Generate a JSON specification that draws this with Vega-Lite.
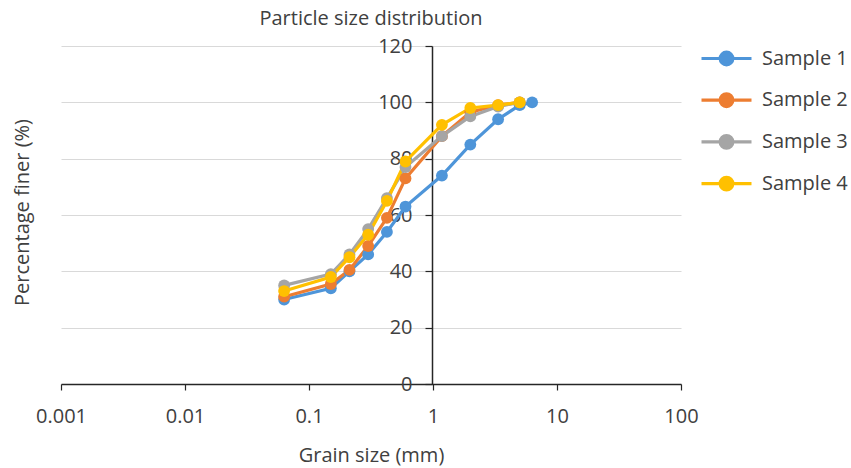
{
  "$schema": "https://vega.github.io/schema/vega-lite/v6.json",
  "width": 620,
  "height": 338,
  "autosize": {"type": "none"},
  "padding": {"left": 61, "top": 46, "right": 170, "bottom": 84},
  "title": {"text": "Particle size distribution", "fontSize": 20, "font": "Open Sans", "fontWeight": "normal", "color": "#404040", "offset": 7},
  "data": {"values": [
    {"sample": "Sample 1", "size": 0.063, "finer": 30},
    {"sample": "Sample 1", "size": 0.15, "finer": 34},
    {"sample": "Sample 1", "size": 0.212, "finer": 40},
    {"sample": "Sample 1", "size": 0.3, "finer": 46},
    {"sample": "Sample 1", "size": 0.425, "finer": 54},
    {"sample": "Sample 1", "size": 0.6, "finer": 63},
    {"sample": "Sample 1", "size": 1.18, "finer": 74},
    {"sample": "Sample 1", "size": 2, "finer": 85},
    {"sample": "Sample 1", "size": 3.35, "finer": 94},
    {"sample": "Sample 1", "size": 5, "finer": 99},
    {"sample": "Sample 1", "size": 6.3, "finer": 100},
    {"sample": "Sample 2", "size": 0.063, "finer": 31},
    {"sample": "Sample 2", "size": 0.15, "finer": 35.5},
    {"sample": "Sample 2", "size": 0.212, "finer": 40.5},
    {"sample": "Sample 2", "size": 0.3, "finer": 49},
    {"sample": "Sample 2", "size": 0.425, "finer": 59},
    {"sample": "Sample 2", "size": 0.6, "finer": 73},
    {"sample": "Sample 2", "size": 1.18, "finer": 88},
    {"sample": "Sample 2", "size": 2, "finer": 96.5},
    {"sample": "Sample 2", "size": 3.35, "finer": 99},
    {"sample": "Sample 2", "size": 5, "finer": 100},
    {"sample": "Sample 3", "size": 0.063, "finer": 35},
    {"sample": "Sample 3", "size": 0.15, "finer": 39},
    {"sample": "Sample 3", "size": 0.212, "finer": 46},
    {"sample": "Sample 3", "size": 0.3, "finer": 55},
    {"sample": "Sample 3", "size": 0.425, "finer": 66},
    {"sample": "Sample 3", "size": 0.6, "finer": 77},
    {"sample": "Sample 3", "size": 1.18, "finer": 88},
    {"sample": "Sample 3", "size": 2, "finer": 95},
    {"sample": "Sample 3", "size": 3.35, "finer": 98.5},
    {"sample": "Sample 3", "size": 5, "finer": 100},
    {"sample": "Sample 4", "size": 0.063, "finer": 33},
    {"sample": "Sample 4", "size": 0.15, "finer": 38},
    {"sample": "Sample 4", "size": 0.212, "finer": 45},
    {"sample": "Sample 4", "size": 0.3, "finer": 53},
    {"sample": "Sample 4", "size": 0.425, "finer": 65},
    {"sample": "Sample 4", "size": 0.6, "finer": 79},
    {"sample": "Sample 4", "size": 1.18, "finer": 92},
    {"sample": "Sample 4", "size": 2, "finer": 98},
    {"sample": "Sample 4", "size": 3.35, "finer": 99},
    {"sample": "Sample 4", "size": 5, "finer": 100}
  ]},
  "mark": {"type": "line", "strokeWidth": 3.2, "point": {"filled": true, "size": 140, "opacity": 1}},
  "encoding": {
    "x": {
      "field": "size", "type": "quantitative",
      "scale": {"type": "log", "domain": [0.001, 100], "nice": false},
      "axis": {
        "title": "Grain size (mm)", "values": [0.001, 0.01, 0.1, 1, 10, 100],
        "format": "~g", "grid": false, "labelFlush": false, "tickSize": 6, "domainColor": "#262626", "tickColor": "#262626",
        "domainWidth": 1.5, "tickWidth": 1.2, "labelPadding": 16, "titlePadding": 19
      }
    },
    "y": {
      "field": "finer", "type": "quantitative",
      "scale": {"domain": [0, 120], "nice": false},
      "axis": {
        "title": "Percentage finer (%)", "values": [0, 20, 40, 60, 80, 100, 120],
        "offset": -371, "titleX": -400, "titleY": 166, "titleAnchor": "middle",
        "labelFlush": false,
        "grid": true, "gridColor": "#d9d9d9", "gridWidth": 1.2,
        "tickSize": 7, "domainColor": "#262626", "tickColor": "#262626", "domainWidth": 1.5, "tickWidth": 1.2,
        "labelPadding": 13
      }
    },
    "color": {
      "field": "sample", "type": "nominal",
      "scale": {"domain": ["Sample 1", "Sample 2", "Sample 3", "Sample 4"], "range": ["#4e95d9", "#ed7d31", "#a5a5a5", "#ffc000"]},
      "legend": {
        "title": null, "orient": "none", "legendX": 647, "legendY": -6,
        "symbolType": "M-1.5,0L1.5,0M-0.38,0A0.38,0.38 0 1,0 0.38,0A0.38,0.38 0 1,0 -0.38,0Z",
        "symbolSize": 1111, "symbolStrokeWidth": 3.2,
        "labelFontSize": 20, "labelFont": "Open Sans", "labelColor": "#404040", "labelOffset": 17,
        "rowPadding": 9.7,
        "encode": {"symbols": {"update": {"fill": {"scale": "color", "field": "value"}, "stroke": {"scale": "color", "field": "value"}, "fillOpacity": {"value": 1}}}}
      }
    }
  },
  "config": {
    "view": {"stroke": null},
    "font": "Open Sans",
    "axis": {"labelFont": "Open Sans", "titleFont": "Open Sans", "labelFontSize": 20, "titleFontSize": 20, "titleFontWeight": "normal", "labelColor": "#404040", "titleColor": "#404040"}
  }
}
